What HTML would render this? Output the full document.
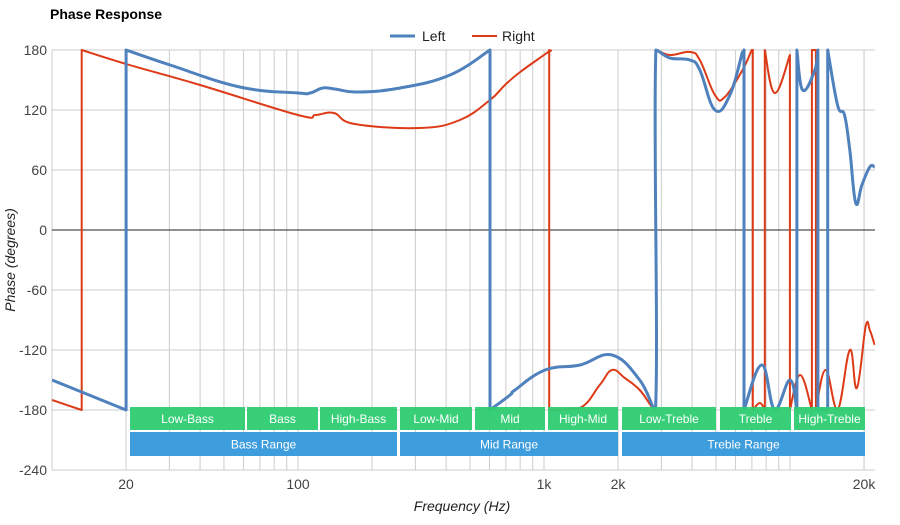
<!DOCTYPE html>
<html><head><meta charset="utf-8"><style>
body{margin:0;background:#fff;font-family:"Liberation Sans",sans-serif}
svg text{font-family:"Liberation Sans",sans-serif}
</style></head><body>
<svg id="chart" width="900" height="520" xmlns="http://www.w3.org/2000/svg">
<text x="50" y="19" font-size="14" font-weight="bold" fill="#000">Phase Response</text>
<g>
<g><line x1="390" y1="36" x2="415" y2="36" stroke="#4f81bd" stroke-width="3"/><text x="422" y="41" font-size="14" fill="#222">Left</text></g>
<g><line x1="472" y1="36" x2="497" y2="36" stroke="#dd3a17" stroke-width="2"/><text x="502" y="41" font-size="14" fill="#222">Right</text></g>
</g>
<g id="grid"></g><g id="axes"></g><g id="series"></g><g id="bands"></g>
<text x="462" y="511" font-size="14" font-style="italic" text-anchor="middle" fill="#222">Frequency (Hz)</text>
<text transform="translate(15,260) rotate(-90)" font-size="14" font-style="italic" text-anchor="middle" fill="#222">Phase (degrees)</text>
</svg>
<script>
const yTicks=[180,120,60,0,-60,-120,-180,-240];
const xTickVals=[20,100,1000,2000,20000];
const xTickLabels=["20","100","1k","2k","20k"];
const leftFreq=[10,20,20,30.2,58,100,112,126,141,175,260,415,603,603,728,762,1010,1400,1890,2450,2840,2850,3250,3920,4300,4950,5700,6410,6500,6500,7680,8670,9990,10670,10670,11250,12620,12980,12980,14230,14230,15600,16650,17500,18500,19600,21100,22100];
const leftPhase=[-150,-180,180,165,143,137,137,142,141,138,142,155,180,-180,-165,-160,-140,-135,-125,-150,-180,180,172,170,160,120,135,178,180,-180,-135,-180,-150,-180,180,140,160,180,-180,-180,180,125,115,80,27,45,63,63];
const rightFreq=[10,13.2,13.2,20,40,100,118,140,170,313,455,603,694,800,1039,1050,1050,1400,1685,1890,2130,2450,2840,2850,3250,3920,4300,4950,5430,6410,6990,7060,7060,7540,7900,7900,8670,9990,9990,10990,12280,12280,12740,12740,13960,15600,17500,18700,20350,21100,22100];
const rightPhase=[-170,-180,180,166,145,115,115,117,106,102,110,130,145,158,178,180,-180,-178,-155,-140,-148,-160,-180,180,175,178,170,135,133,160,180,180,-180,-173,-180,180,137,175,-180,-145,-180,180,180,-180,-140,-180,-120,-158,-95,-100,-115];
const bandsTop=[["Low-Bass",130,245],["Bass",247,318],["High-Bass",320,397],["Low-Mid",400,472],["Mid",475,545],["High-Mid",548,618],["Low-Treble",622,716],["Treble",720,791],["High-Treble",794,865]];
const bandsBottom=[["Bass Range",130,397],["Mid Range",400,618],["Treble Range",622,865]];
const X0=52,X1=875;
const xs=f=>298+246*Math.log10(f/100);
const ys=v=>50+(180-v);
const NS="http://www.w3.org/2000/svg";
function mk(t,a,p){const e=document.createElementNS(NS,t);for(const k in a)e.setAttribute(k,a[k]);p.appendChild(e);return e;}
const grid=document.getElementById('grid'),axes=document.getElementById('axes');
for(let d=10;d<=10000;d*=10){for(let m=1;m<=9;m++){const f=d*m;if(f<10||f>22000)continue;const l=mk('line',{x1:xs(f),x2:xs(f),y1:50,y2:470,stroke:'#ccc','stroke-width':1},grid);

}}
{const l=mk('line',{x1:xs(20000),x2:xs(20000),y1:50,y2:470,stroke:'#ccc'},grid);

}
yTicks.forEach(v=>{const l=mk('line',{x1:X0,x2:X1,y1:ys(v),y2:ys(v),stroke:v===0?'#222':'#ccc','stroke-width':1},grid);


const t=mk('text',{x:47,y:ys(v)+5,'text-anchor':'end','font-size':14,fill:'#444'},axes);t.textContent=v;

});
xTickVals.forEach((f,i)=>{const t=mk('text',{x:xs(f),y:489,'text-anchor':'middle','font-size':14,fill:'#444'},axes);t.textContent=xTickLabels[i];

});
const ser=document.getElementById('series');
const cp=mk('clipPath',{id:'cp'},ser);mk('rect',{x:X0,y:48,width:X1-X0,height:424},cp);
function smoothPath(fr,ph){
  const pts=fr.map((f,i)=>[xs(f),ys(ph[i])]);
  // split into segments at vertical jumps
  const segs=[];let cur=[pts[0]];
  for(let i=1;i<pts.length;i++){
    if(Math.abs(pts[i][0]-pts[i-1][0])<0.01){segs.push(cur);cur=[pts[i]];}
    else cur.push(pts[i]);
  }
  segs.push(cur);
  let d='M'+pts[0][0].toFixed(1)+','+pts[0][1].toFixed(1);
  segs.forEach((s,si)=>{
    if(si>0)d+='L'+s[0][0].toFixed(1)+','+s[0][1].toFixed(1);
    for(let i=0;i<s.length-1;i++){
      const p0=s[i-1]||s[i],p1=s[i],p2=s[i+1],p3=s[i+2]||s[i+1];
      const t=0.2;
      let c1y=p1[1]+(p2[1]-p0[1])*t,c2y=p2[1]-(p3[1]-p1[1])*t;
      const lo=Math.min(p1[1],p2[1])-8,hi=Math.max(p1[1],p2[1])+8;
      c1y=Math.max(Math.min(c1y,hi),lo);c2y=Math.max(Math.min(c2y,hi),lo);
      c1y=Math.min(Math.max(c1y,50),410);c2y=Math.min(Math.max(c2y,50),410);
      const c1x=p1[0]+(p2[0]-p0[0])*t,c2x=p2[0]-(p3[0]-p1[0])*t;
      d+='C'+c1x.toFixed(1)+','+c1y.toFixed(1)+' '+c2x.toFixed(1)+','+c2y.toFixed(1)+' '+p2[0].toFixed(1)+','+p2[1].toFixed(1);
    }
  });
  return d;
}
function line(fr,ph,col,w,name){
const p=mk('path',{d:smoothPath(fr,ph),fill:'none',stroke:col,'stroke-width':w,'clip-path':'url(#cp)','stroke-linejoin':'round'},ser);

}
line(rightFreq,rightPhase,'#dd3a17',2,'right-series-line');
line(leftFreq,leftPhase,'#4f81bd',3,'left-series-line');
const bands=document.getElementById('bands');
function band(arr,y,h,col){arr.forEach(b=>{const g=mk('g',{},bands);


mk('rect',{x:b[1],y:y,width:b[2]-b[1],height:h,fill:col,opacity:0.95},g);
const t=mk('text',{x:(b[1]+b[2])/2,y:y+h/2+4.5,'text-anchor':'middle','font-size':12,fill:'#fff'},g);t.textContent=b[0];});}
band(bandsTop,407,23,'#2ecc71');
band(bandsBottom,432,24,'#3498db');
</script>
</body></html>
